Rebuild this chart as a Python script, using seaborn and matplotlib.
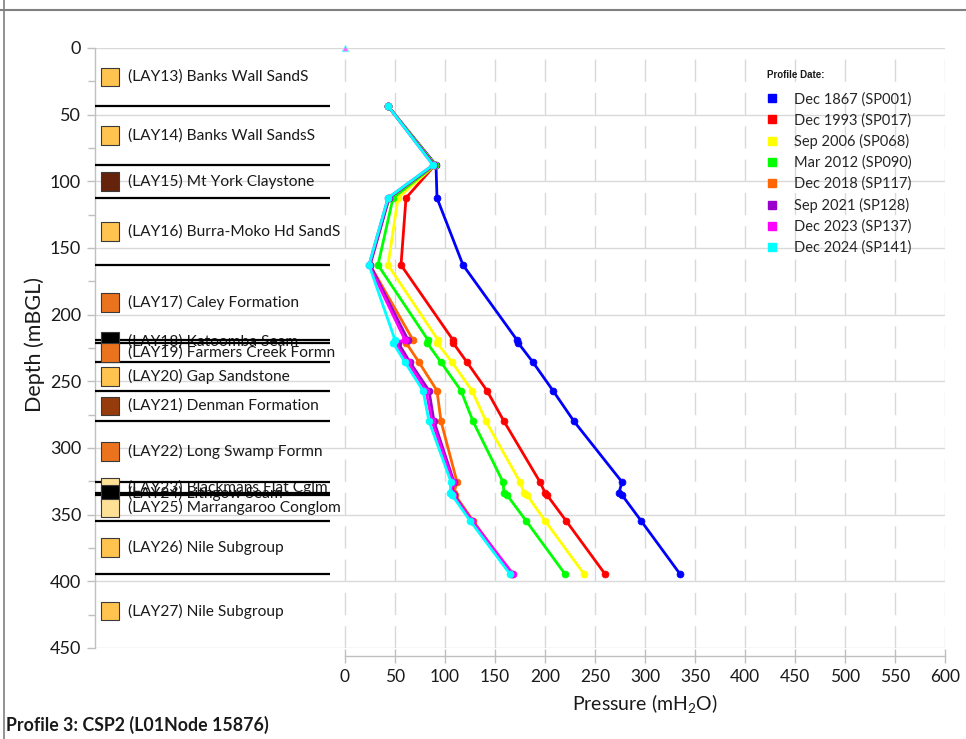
import numpy as np
import pandas as pd
import matplotlib
matplotlib.use('Agg')
import matplotlib.pyplot as plt
import seaborn as sns
from matplotlib.lines import Line2D
from matplotlib.ticker import MultipleLocator

# ---------------- data ----------------
depths = [43.5, 87.75, 112.5, 162.75, 219, 221, 235.7, 257, 280, 325.5, 333.5, 335.25, 354.5, 394.5]

series_names = ["Dec 1867 (SP001)", "Dec 1993 (SP017)", "Sep 2006 (SP068)", "Mar 2012 (SP090)",
                "Dec 2018 (SP117)", "Sep 2021 (SP128)", "Dec 2023 (SP137)", "Dec 2024 (SP141)"]
p_1867 = [43, 91, 92, 118, 172, 173, 188, 208, 229, 277, 274, 277, 296, 335]
p_1993 = [43, 90, 61, 56, 108, 108, 122, 142, 159, 195, 200, 202, 221, 260]
p_2006 = [43, 90, 53, 43, 93, 92, 107, 127, 141, 175, 179, 182, 200, 239]
p_2012 = [43, 90, 48, 33, 83, 82, 96, 116, 128, 158, 159, 162, 181, 220]
p_2018 = [43, 89, 44, 25, 68, 61, 74, 92, 96, 112, 109, 110, 128, 166]
p_2021 = [43, 89, 44, 25, 63, 53, 65, 84, 89, 109, 107, 109, 127, 167]
p_2023 = [43, 88, 43, 24, 60, 50, 63, 81, 87, 108, 106, 108, 127, 168]
p_2024 = [43, 88, 43, 24, 50, 48, 60, 78, 84, 106, 105, 107, 125, 165]
series_values = [p_1867, p_1993, p_2006, p_2012, p_2018, p_2021, p_2023, p_2024]
series_colors = ["#0000FF", "#FF0000", "#FFFF00", "#00FF00", "#FF6600", "#9900CC", "#FF00FF", "#00FFFF"]

surface_p = [0]
surface_d = [0]

layer_names = ["(LAY13) Banks Wall SandS", "(LAY14) Banks Wall SandsS", "(LAY15) Mt York Claystone",
               "(LAY16) Burra-Moko Hd SandS", "(LAY17) Caley Formation", "(LAY18) Katoomba Seam",
               "(LAY19) Farmers Creek Formn", "(LAY20) Gap Sandstone", "(LAY21) Denman Formation",
               "(LAY22) Long Swamp Formn", "(LAY23) Blackmans Flat Cglm", "(LAY24) Lithgow Seam",
               "(LAY25) Marrangaroo Conglom", "(LAY26) Nile Subgroup", "(LAY27) Nile Subgroup"]
layer_tops = [0, 43.5, 87.75, 112.5, 162.75, 219, 221, 235.7, 257, 280, 325.5, 333.5, 335.25, 354.5, 394.5]
layer_bottoms = [43.5, 87.75, 112.5, 162.75, 219, 221, 235.7, 257, 280, 325.5, 333.5, 335.25, 354.5, 394.5, 450]
layer_colors = ["#FFC350", "#FFC350", "#64230A", "#FFC350", "#EB731E", "#000000", "#EB731E", "#FFC350",
                "#963C0C", "#EB731E", "#FFE196", "#000000", "#FFE196", "#FFC350", "#FFC350"]

# ---------------- style ----------------
sns.set_theme(style='white')
plt.rcParams['font.family'] = ['Lato', 'DejaVu Sans']
plt.rcParams['mathtext.default'] = 'regular'

W, H = 966, 739
fig = plt.figure(figsize=(W / 100, H / 100), dpi=100)
ax = fig.add_axes([95 / W, 1 - 648 / H, 850 / W, 600 / H])

# pressure profiles
for name, vals, col in zip(series_names, series_values, series_colors):
    df = pd.DataFrame({"Pressure": vals, "Depth": depths})
    sns.lineplot(data=df, x="Pressure", y="Depth", sort=False, estimator=None, color=col,
                 marker='o', markersize=5, markeredgecolor=col, markeredgewidth=0.5,
                 linewidth=2, ax=ax, legend=False, zorder=3)

sns.scatterplot(x=surface_p, y=surface_d, marker='^', color='#FF66FF', edgecolor='#66FFFF',
                s=22, linewidth=0.6, ax=ax, legend=False, zorder=4, clip_on=False)

# layer column
mids = [(t + b) / 2 for t, b in zip(layer_tops, layer_bottoms)]
ax.hlines(layer_bottoms[:-1], -250, -15, color='black', lw=1.6, zorder=5)
ax.scatter([-235] * len(mids), mids, marker='s', s=180, c=layer_colors, edgecolors='#3A3A3A',
           linewidths=0.8, zorder=6)
for name, m in zip(layer_names, mids):
    ax.text(-217, m, name, va='center', ha='left', fontsize=11.2, color='#1A1A1A', zorder=4)

# axes
ax.set_xlim(-250, 600)
ax.set_ylim(450, 0)
ax.set_xticks(range(0, 601, 50))
ax.set_yticks(range(0, 451, 50))
ax.yaxis.set_minor_locator(MultipleLocator(25))

ax.grid(axis='y', which='major', color='#D9D9D9', lw=1, ls='-', zorder=0)
ax.grid(axis='x', which='major', color='#D9D9D9', lw=1, ls=(0, (16, 8)), zorder=0)
ax.set_axisbelow(True)

for s in ['top', 'right']:
    ax.spines[s].set_visible(False)
ax.spines['left'].set_color('#BFBFBF')
ax.spines['left'].set_linewidth(1)
ax.spines['bottom'].set_position(('outward', 6))
ax.spines['bottom'].set_bounds(0, 600)
ax.spines['bottom'].set_color('#BFBFBF')
ax.spines['bottom'].set_linewidth(1)

ax.tick_params(axis='x', which='major', direction='inout', length=10, width=1, color='#BFBFBF',
               labelsize=12.5, pad=4, labelcolor='#1A1A1A', bottom=True)
ax.tick_params(axis='y', which='major', direction='out', length=6, width=1, color='#BFBFBF',
               labelsize=13, pad=4, labelcolor='#1A1A1A', left=True)
ax.tick_params(axis='y', which='minor', direction='out', length=5, width=1, color='#BFBFBF', left=True)

ax.set_ylabel('Depth (mBGL)', fontsize=15.5, color='#1A1A1A')
ax.yaxis.set_label_coords((35 - 95) / 850, 0.505)
ax.yaxis.label.set_va('center')
ax.set_xlabel('Pressure (mH$_2$O)', fontsize=14, color='#1A1A1A')
ax.xaxis.set_label_coords(0.647, -0.0917)
ax.xaxis.label.set_va('center')

# legend
fig.text(767 / W, 1 - 75 / H, 'Profile Date:', fontsize=7, fontweight='bold',
         family='Liberation Sans', va='center', ha='left', color='#1A1A1A')
handles = [Line2D([], [], marker='s', color=c, ls='none', markersize=6) for c in series_colors]
leg = ax.legend(handles, series_names, loc='upper left',
                bbox_to_anchor=(766 / W, 1 - 92 / H), bbox_transform=fig.transFigure,
                frameon=False, fontsize=10.5, handlelength=0.8, handletextpad=1.1,
                labelspacing=0.455, borderaxespad=0, borderpad=0)
leg.set_zorder(10)

# frame lines and caption
fig.add_artist(Line2D([0, 1], [1 - 9.5 / H] * 2, transform=fig.transFigure, color='#808080', lw=1.5))
fig.add_artist(Line2D([3.5 / W] * 2, [0, 1], transform=fig.transFigure, color='#808080', lw=1.2))
fig.text(6 / W, 1 - 725 / H, 'Profile 3: CSP2 (L01Node 15876)', fontweight='bold', fontsize=12.8,
         va='center', ha='left', color='#1A1A1A')

fig.savefig('out.png', dpi=100)
